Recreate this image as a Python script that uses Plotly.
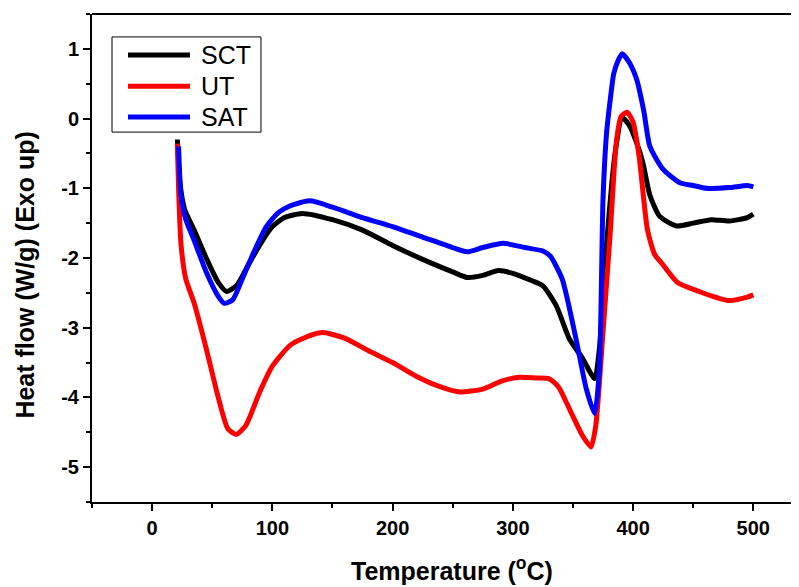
import plotly.graph_objects as go

# --- data ---
sct_t = [21, 23, 27, 35, 45, 55, 62, 70, 80, 90, 100, 110, 125, 150, 175, 200, 225, 250, 262,
         275, 288, 300, 315, 325, 336, 347, 358, 368, 372, 378, 385, 391, 397, 403, 408, 414,
         422, 436, 450, 465, 480, 495, 500]
sct_hf = [-0.3, -0.9, -1.3, -1.6, -2.0, -2.35, -2.48, -2.4, -2.1, -1.8, -1.55, -1.42, -1.36,
          -1.45, -1.6, -1.82, -2.02, -2.2, -2.28, -2.25, -2.18, -2.22, -2.32, -2.4, -2.68,
          -3.16, -3.44, -3.73, -3.3, -1.8, -0.5, 0.01, -0.1, -0.35, -0.62, -1.1, -1.4,
          -1.54, -1.5, -1.45, -1.47, -1.42, -1.37]

ut_t = [21, 22, 24, 28, 35, 45, 55, 63, 70, 78, 90, 100, 115, 130, 142, 160, 180, 200, 220,
        240, 255, 275, 290, 305, 320, 330, 338, 348, 358, 365, 369, 375, 381, 386, 390, 395,
        400, 405, 412, 418, 425, 437, 455, 470, 480, 495, 500]
ut_hf = [-0.36, -1.0, -1.8, -2.3, -2.65, -3.3, -4.0, -4.45, -4.53, -4.4, -3.9, -3.55, -3.25,
         -3.12, -3.07, -3.15, -3.33, -3.5, -3.7, -3.85, -3.92, -3.88, -3.77, -3.71, -3.72,
         -3.73, -3.85, -4.2, -4.55, -4.71, -4.4, -3.06, -1.64, -0.35, 0.03, 0.09, -0.05,
         -0.54, -1.6, -1.95, -2.1, -2.35, -2.48, -2.57, -2.61, -2.56, -2.53]

sat_t = [22, 24, 28, 35, 45, 55, 60, 67, 75, 85, 95, 105, 115, 131, 150, 175, 200, 225, 250,
         262, 275, 292, 310, 325, 331, 341, 353, 361, 368, 372, 375, 378, 381, 384, 388, 391,
         397, 403, 409, 414, 425, 439, 450, 461, 480, 495, 500]
sat_hf = [-0.4, -1.1, -1.45, -1.75, -2.2, -2.55, -2.65, -2.6, -2.3, -1.9, -1.55, -1.35, -1.25,
          -1.18, -1.27, -1.42, -1.55, -1.7, -1.85, -1.91, -1.85, -1.79, -1.85, -1.9, -1.97,
          -2.3, -3.2, -3.87, -4.23, -3.6, -1.16, -0.2, 0.27, 0.65, 0.85, 0.93, 0.8, 0.56,
          0.1, -0.4, -0.73, -0.92, -0.96, -1.0, -0.99, -0.96, -0.98]

x_ticks = [0, 100, 200, 300, 400, 500]
y_ticks = [-5, -4, -3, -2, -1, 0, 1]

series = [("SCT", sct_t, sct_hf, "#000000"),
          ("UT", ut_t, ut_hf, "#ff0000"),
          ("SAT", sat_t, sat_hf, "#0000ff")]

font = "Liberation Sans, Arial, sans-serif"

fig = go.Figure()
for name, t, hf, col in series:
    fig.add_trace(go.Scatter(x=t, y=hf, name=name, mode="lines", showlegend=False,
                             line=dict(color=col, width=5, shape="spline", smoothing=0.6)))

axis_common = dict(
    showline=True, linecolor="black", linewidth=2, mirror=False,
    ticks="outside", ticklen=7, tickwidth=2, tickcolor="black",
    showgrid=False, zeroline=False, automargin=False,
    tickfont=dict(family=font, size=20, color="black", weight="bold"),
)

fig.update_xaxes(
    range=[-50, 538], tickvals=x_ticks, ticktext=[str(v) for v in x_ticks],
    minor=dict(ticks="outside", dtick=50, tick0=0, ticklen=4, tickwidth=2, tickcolor="black"),
    **axis_common,
)
fig.update_yaxes(
    range=[-5.5, 1.5], tickvals=y_ticks, ticktext=[str(v) for v in y_ticks],
    minor=dict(ticks="outside", dtick=0.5, tick0=0, ticklen=4, tickwidth=2, tickcolor="black"),
    **axis_common,
)

# top frame line (right side is cut off in the original)
fig.add_shape(type="line", xref="paper", yref="paper", x0=0, x1=1, y0=1, y1=1,
              line=dict(color="black", width=2))

# axis titles
fig.add_annotation(text="Temperature (<sup>o</sup>C)", xref="paper", yref="paper",
                   x=0.509, y=-0.137, showarrow=False, xanchor="center", yanchor="middle",
                   font=dict(family=font, size=25, color="black", weight="bold"))
fig.add_annotation(text="Heat flow (W/g) (Exo up)", xref="paper", yref="paper",
                   x=-0.094, y=0.465, showarrow=False, textangle=-90,
                   xanchor="center", yanchor="middle",
                   font=dict(family=font, size=25, color="black", weight="bold"))

# legend box drawn by hand (long line samples like the original)
fig.add_shape(type="rect", xref="paper", yref="paper", x0=0.0283, x1=0.239, y0=0.758, y1=0.953,
              line=dict(color="black", width=1), fillcolor="white", layer="above")
rows = [0.916, 0.852, 0.789]
for (name, _, _, col), ry in zip(series, rows):
    fig.add_shape(type="line", xref="paper", yref="paper", x0=0.0509, x1=0.1386, y0=ry, y1=ry,
                  line=dict(color=col, width=5), layer="above")
    fig.add_annotation(text=name, xref="paper", yref="paper", x=0.1513, y=ry,
                       showarrow=False, xanchor="left", yanchor="middle",
                       font=dict(family=font, size=25, color="black"))

# page body has an 8px default margin, so the figure is sized/placed to compensate
fig.update_layout(
    width=791, height=579,
    margin=dict(l=84, r=0, t=6, b=85),
    paper_bgcolor="white", plot_bgcolor="white",
    showlegend=False,
)

fig.write_html("out.html")
